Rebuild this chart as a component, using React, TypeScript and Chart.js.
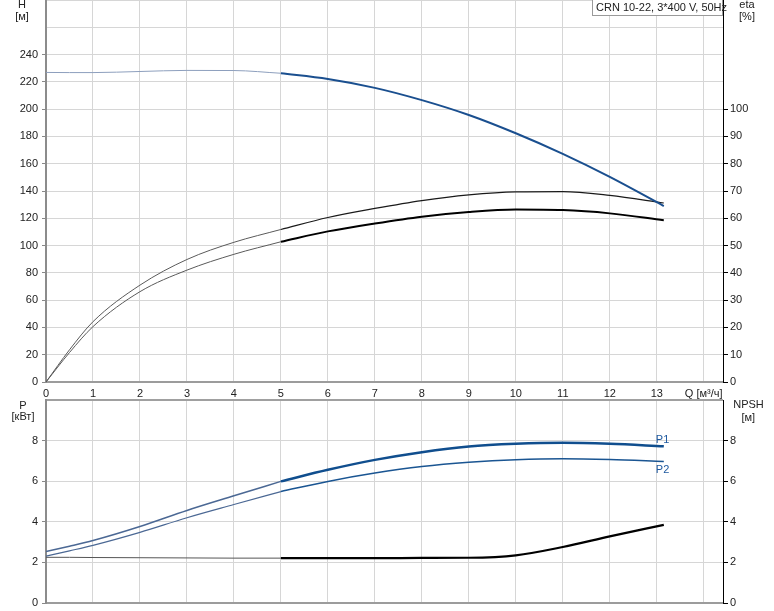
import React, { useEffect, useRef } from "react";
import { Chart, registerables } from "chart.js";

Chart.register(...registerables);

// ---- data ----
const qValues = [0, 0.5, 1, 2, 3, 4, 5, 6, 7, 8, 9, 10, 11, 12, 13.15];
const headH = [226.9, 226.8, 226.8, 227.6, 228.4, 228.3, 226.3, 222.1, 215.6, 206.6, 195.7, 182.3, 167.2, 150.3, 129.0];
const etaUpper = [0, 11.8, 22.1, 35.5, 44.9, 51.2, 55.9, 60.3, 63.6, 66.5, 68.6, 69.7, 69.8, 68.4, 65.6];
const etaLower = [0, 10.8, 20.3, 33.1, 41.0, 46.8, 51.4, 55.2, 58.1, 60.6, 62.3, 63.2, 63.0, 61.8, 59.3];
const powerP1 = [2.54, 2.8, 3.08, 3.77, 4.56, 5.28, 5.99, 6.56, 7.05, 7.43, 7.71, 7.84, 7.89, 7.84, 7.72];
const powerP2 = [2.31, 2.57, 2.84, 3.48, 4.2, 4.85, 5.49, 5.99, 6.4, 6.72, 6.93, 7.06, 7.11, 7.07, 6.97];
const npshValues = [2.25, 2.25, 2.24, 2.23, 2.22, 2.21, 2.21, 2.21, 2.21, 2.22, 2.23, 2.35, 2.76, 3.28, 3.85];
const dutyStartQ = 5; // thin line before, bold line after

const qAxisTitle = "Q [м³/ч]";
const legendText = "CRN 10-22, 3*400 V, 50Hz";
const topAxisTitles = { left: ["H", "[м]"], right: ["eta", "[%]"] };
const bottomAxisTitles = { left: ["P", "[кВт]"], right: ["NPSH", "[м]"] };
const curveLabels = ["P1", "P2"];

const FONT = "'Liberation Sans', Arial, sans-serif";
const GRID = "#d6d6d6";
const TEXT = "#222";

function pts(values: number[], part: "thin" | "thick") {
  const out: { x: number; y: number }[] = [];
  qValues.forEach((q, i) => {
    if (part === "thin" ? q <= dutyStartQ : q >= dutyStartQ) out.push({ x: q, y: values[i] });
  });
  return out;
}

function ds(values: number[], part: "thin" | "thick", color: string, width: number, axis: string) {
  return {
    data: pts(values, part),
    borderColor: color,
    borderWidth: width,
    pointRadius: 0,
    fill: false,
    cubicInterpolationMode: "monotone" as const,
    yAxisID: axis,
  };
}

function noPad(s: any) {
  s.paddingTop = 0;
  s.paddingBottom = 0;
  s.paddingLeft = 0;
  s.paddingRight = 0;
}

function textPlugin(draw: (chart: any, ctx: CanvasRenderingContext2D) => void) {
  return {
    id: "texts",
    afterDraw(chart: any) {
      const ctx = chart.ctx as CanvasRenderingContext2D;
      ctx.save();
      ctx.font = `11px ${FONT}`;
      ctx.fillStyle = TEXT;
      ctx.textBaseline = "middle";
      draw(chart, ctx);
      ctx.restore();
    },
  };
}

export default function App() {
  const topRef = useRef<HTMLCanvasElement>(null);
  const botRef = useRef<HTMLCanvasElement>(null);

  useEffect(() => {
    Chart.defaults.font.family = FONT;
    Chart.defaults.font.size = 11;
    Chart.defaults.color = TEXT;

    const xBase = {
      type: "linear" as const,
      min: 0,
      max: 14.41,
      border: { color: "#9c9c9c", width: 2 },
      grid: { color: GRID, lineWidth: 1, drawTicks: false },
    };

    const top = new Chart(topRef.current!, {
      type: "line",
      data: {
        datasets: [
          ds(headH, "thin", "#8d9fbd", 1, "yH"),
          ds(headH, "thick", "#1a4f8f", 2, "yH"),
          ds(etaUpper, "thin", "#5a5a5a", 1, "yEta"),
          ds(etaUpper, "thick", "#1a1a1a", 1.2, "yEta"),
          ds(etaLower, "thin", "#5a5a5a", 1, "yEta"),
          ds(etaLower, "thick", "#000000", 2, "yEta"),
        ],
      },
      options: {
        animation: false,
        responsive: false,
        devicePixelRatio: 1,
        layout: { padding: 0 },
        plugins: { legend: { display: false }, tooltip: { enabled: false } },
        scales: {
          x: {
            ...xBase,
            afterFit: (s: any) => { s.height = 18; noPad(s); },
            ticks: {
              stepSize: 1,
              includeBounds: false,
              padding: 5,
              maxRotation: 0,
              autoSkip: false,
              callback: (v: any) => (v === 14 ? qAxisTitle : String(v)),
            },
          },
          yH: {
            position: "left",
            min: 0,
            max: 280,
            afterFit: (s: any) => { s.width = 46; noPad(s); },
            border: { color: "#8c8c8c", width: 2 },
            grid: {
              color: GRID,
              tickLength: 4,
              tickColor: (c: any) => (c.tick && c.tick.value > 240 ? "rgba(0,0,0,0)" : "#888"),
            },
            ticks: {
              stepSize: 20,
              includeBounds: false,
              padding: 4,
              callback: (v: any) => (v > 240 ? "" : String(v)),
            },
          },
          yEta: {
            position: "right",
            min: 0,
            max: 140,
            afterFit: (s: any) => { s.width = 51; noPad(s); },
            border: { color: "#000", width: 1 },
            grid: {
              drawOnChartArea: false,
              tickLength: 5,
              tickColor: (c: any) => (c.tick && c.tick.value > 100 ? "rgba(0,0,0,0)" : "#000"),
            },
            ticks: {
              stepSize: 10,
              includeBounds: false,
              padding: 2,
              callback: (v: any) => (v > 100 ? "" : String(v)),
            },
          },
        } as any,
      },
      plugins: [
        textPlugin((chart, ctx) => {
          ctx.textAlign = "center";
          ctx.fillText(topAxisTitles.left[0], 22, 5);
          ctx.fillText(topAxisTitles.left[1], 22, 17);
          ctx.fillText(topAxisTitles.right[0], 747, 5);
          ctx.fillText(topAxisTitles.right[1], 747, 17);
          // legend box
          ctx.fillStyle = "#fff";
          ctx.fillRect(593, 0, 130, 15);
          ctx.strokeStyle = "#9a9a9a";
          ctx.lineWidth = 1;
          ctx.strokeRect(592.5, -0.5, 130, 16);
          ctx.fillStyle = TEXT;
          ctx.textAlign = "left";
          ctx.fillText(legendText, 596, 8);
        }),
      ],
    });

    const bot = new Chart(botRef.current!, {
      type: "line",
      data: {
        datasets: [
          ds(powerP1, "thin", "#4b6894", 1.5, "yP"),
          ds(powerP1, "thick", "#104e8e", 2.5, "yP"),
          ds(powerP2, "thin", "#4b6894", 1.2, "yP"),
          ds(powerP2, "thick", "#1a5592", 1.5, "yP"),
          ds(npshValues, "thin", "#555555", 1, "yN"),
          ds(npshValues, "thick", "#000000", 2.2, "yN"),
        ],
      },
      options: {
        animation: false,
        responsive: false,
        devicePixelRatio: 1,
        layout: { padding: { top: 8, left: 0, right: 0, bottom: 0 } },
        plugins: { legend: { display: false }, tooltip: { enabled: false } },
        scales: {
          x: {
            ...xBase,
            afterFit: (s: any) => { s.height = 8; noPad(s); },
            ticks: { stepSize: 1, includeBounds: false, display: false },
          },
          yP: {
            position: "left",
            min: 0,
            max: 10,
            afterFit: (s: any) => { s.width = 46; noPad(s); },
            border: { color: "#8c8c8c", width: 2 },
            grid: {
              color: (c: any) => (c.tick && c.tick.value === 10 ? "#a0a0a0" : GRID),
              lineWidth: (c: any) => (c.tick && c.tick.value === 10 ? 2 : 1),
              tickLength: 4,
              tickColor: (c: any) => (c.tick && c.tick.value > 8 ? "rgba(0,0,0,0)" : "#888"),
            },
            ticks: {
              stepSize: 2,
              includeBounds: false,
              padding: 4,
              callback: (v: any) => (v > 8 ? "" : String(v)),
            },
          },
          yN: {
            position: "right",
            min: 0,
            max: 10,
            afterFit: (s: any) => { s.width = 51; noPad(s); },
            border: { color: "#000", width: 1 },
            grid: {
              drawOnChartArea: false,
              tickLength: 5,
              tickColor: (c: any) => (c.tick && c.tick.value > 8 ? "rgba(0,0,0,0)" : "#000"),
            },
            ticks: {
              stepSize: 2,
              includeBounds: false,
              padding: 2,
              callback: (v: any) => (v > 8 ? "" : String(v)),
            },
          },
        } as any,
      },
      plugins: [
        textPlugin((chart, ctx) => {
          ctx.textAlign = "center";
          ctx.fillText(bottomAxisTitles.left[0], 23, 13.5);
          ctx.fillText(bottomAxisTitles.left[1], 23, 25);
          ctx.fillText(bottomAxisTitles.right[0], 748.5, 12.7);
          ctx.fillText(bottomAxisTitles.right[1], 748.3, 25.5);
          const xs = chart.scales.x;
          const ys = chart.scales.yP;
          const last = qValues.length - 1;
          const xe = xs.getPixelForValue(qValues[last]);
          ctx.fillStyle = "#1f5aa0";
          ctx.textAlign = "left";
          ctx.fillText(curveLabels[0], xe - 8, ys.getPixelForValue(powerP1[last]) - 6);
          ctx.fillText(curveLabels[1], xe - 8, ys.getPixelForValue(powerP2[last]) + 8);
        }),
      ],
    });

    return () => {
      top.destroy();
      bot.destroy();
    };
  }, []);

  return (
    <div style={{ position: "absolute", left: 0, top: 0, width: 774, height: 611, background: "#fff", overflow: "hidden" }}>
      <canvas ref={topRef} width={774} height={400} style={{ position: "absolute", left: 0, top: 0, width: 774, height: 400 }} />
      <canvas ref={botRef} width={774} height={219} style={{ position: "absolute", left: 0, top: 392, width: 774, height: 219 }} />
    </div>
  );
}
